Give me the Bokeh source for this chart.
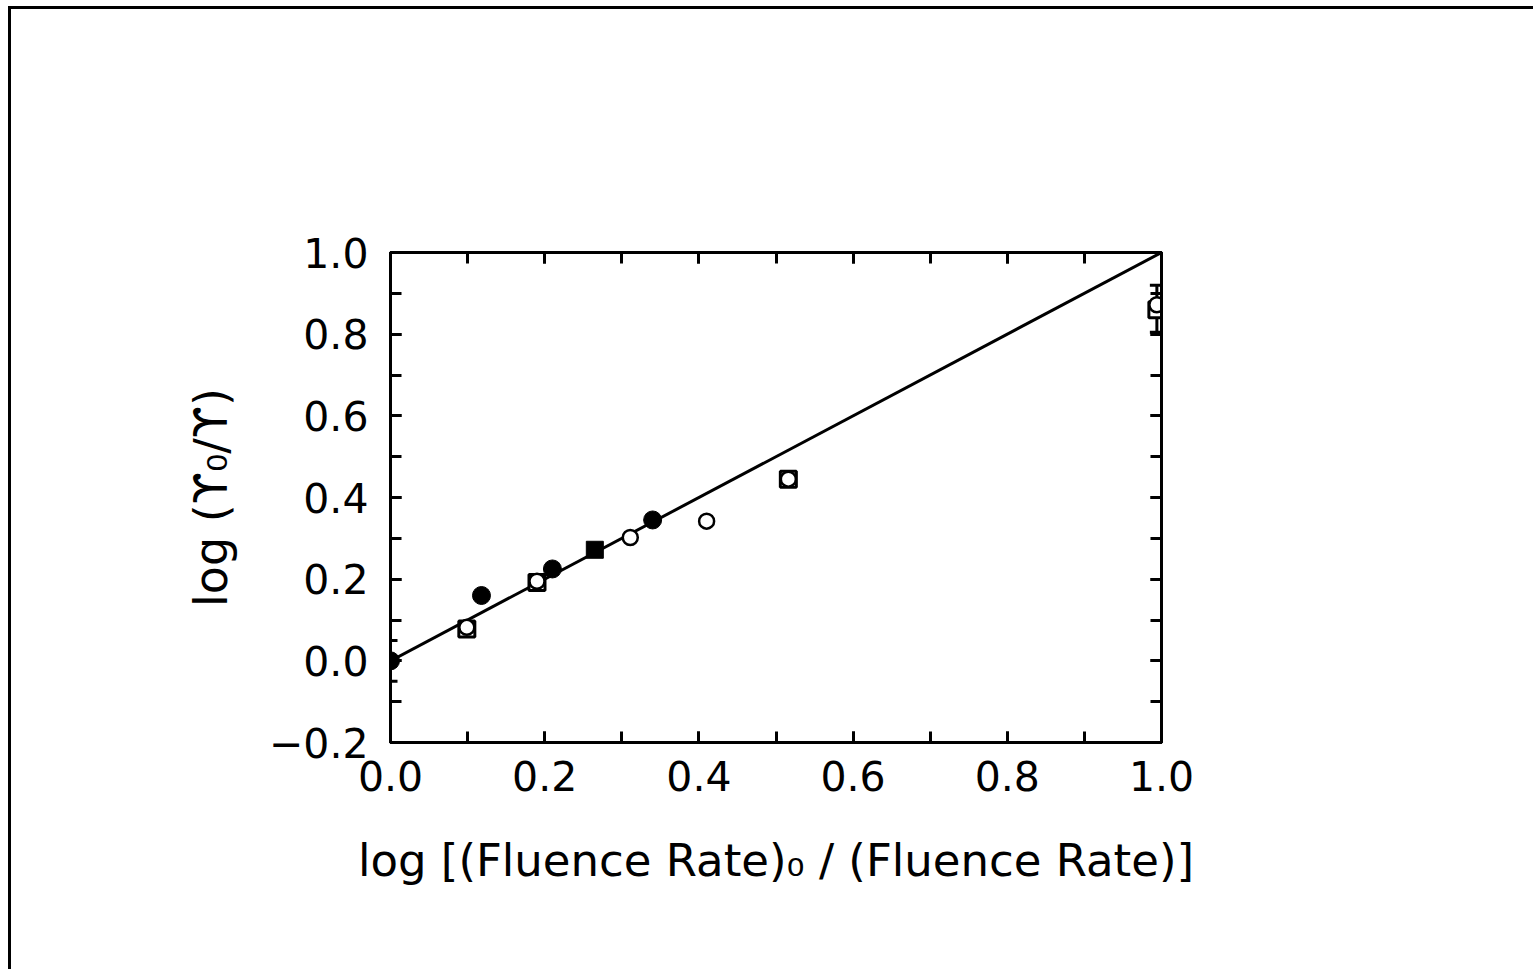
from bokeh.plotting import figure
from bokeh.models import (LinearAxis, SingleIntervalTicker, Range1d, Whisker,
                          ColumnDataSource, TeeHead, CustomJSTickFormatter)
from bokeh.embed import file_html
from bokeh.resources import INLINE

# ---- data ----
filled_circle_x = [0.0, 0.118, 0.21, 0.34]
filled_circle_y = [0.0, 0.16, 0.225, 0.345]

open_circle_x = [0.099, 0.19, 0.311, 0.41, 0.516, 0.994]
open_circle_y = [0.082, 0.195, 0.302, 0.342, 0.445, 0.872]

open_square_x = [0.099, 0.19, 0.516, 0.994]
open_square_y = [0.078, 0.192, 0.445, 0.86]

filled_square_x = [0.265]
filled_square_y = [0.272]

err_x = [0.0, 0.994]
err_low = [-0.05, 0.805]
err_high = [0.05, 0.92]

fit_x = [0.0, 1.0]
fit_y = [0.0, 1.0]

x_ticks_interval = 0.2
y_ticks_interval = 0.2

x_title = "log [(Fluence Rate)\u2080 / (Fluence Rate)]"
y_title = "log (\u03d2\u2080/\u03d2)"

FONT = "DejaVu Sans"
XMIN, XMAX, YMIN, YMAX = 0.0, 1.0, -0.2, 1.0

p = figure(width=1525, height=963, output_backend="svg", toolbar_location=None,
           x_range=Range1d(XMIN, XMAX), y_range=Range1d(YMIN, YMAX),
           min_border_left=379, min_border_right=375, min_border_top=243,
           min_border_bottom=230, x_axis_location=None, y_axis_location=None)
p.styles = {"border-left": "3px solid black", "border-top": "3px solid black",
            "margin-left": "8px", "margin-top": "6px"}
p.grid.visible = False
p.outline_line_color = "black"
p.outline_line_width = 3
p.background_fill_color = "white"
p.border_fill_color = "white"

fmt = CustomJSTickFormatter(code="""
if (Math.abs(tick) < 1e-9) { return '0.0'; }
return tick.toFixed(1).replace('-', '\\u2212');
""")


def make_axis(interval, labels=True):
    ax = LinearAxis(ticker=SingleIntervalTicker(interval=interval, num_minor_ticks=2))
    ax.formatter = fmt
    ax.axis_line_color = "black"
    ax.axis_line_width = 3
    ax.major_tick_in = 11
    ax.major_tick_out = 0
    ax.minor_tick_in = 11
    ax.minor_tick_out = 0
    ax.major_tick_line_width = 3
    ax.minor_tick_line_width = 3
    ax.major_tick_line_color = "black"
    ax.minor_tick_line_color = "black"
    ax.major_label_text_font = FONT
    ax.major_label_text_font_size = "41px"
    ax.major_label_text_color = "black" if labels else None
    ax.major_label_standoff = 20
    ax.axis_label_text_font = FONT
    ax.axis_label_text_font_style = "normal"
    ax.axis_label_text_color = "black"
    return ax


xb = make_axis(x_ticks_interval)
xb.axis_label = x_title
xb.axis_label_text_font_size = "45px"
xb.axis_label_standoff = 40
xb.major_label_standoff = 18
p.add_layout(xb, "below")

yl = make_axis(y_ticks_interval)
yl.axis_label = y_title
yl.axis_label_text_font_size = "46px"
yl.axis_label_standoff = 28
yl.major_label_standoff = 22
p.add_layout(yl, "left")

xt = make_axis(x_ticks_interval, labels=False)
xt.major_label_text_font_size = "0px"
p.add_layout(xt, "above")
yr = make_axis(y_ticks_interval, labels=False)
yr.major_label_text_font_size = "0px"
p.add_layout(yr, "right")

# fit line
p.line(fit_x, fit_y, line_color="black", line_width=3)

# error bars
esrc = ColumnDataSource(dict(x=err_x, lower=err_low, upper=err_high))
whisk = Whisker(source=esrc, base="x", lower="lower", upper="upper",
                line_color="black", line_width=3)
whisk.upper_head = TeeHead(size=14, line_width=3, line_color="black")
whisk.lower_head = TeeHead(size=14, line_width=3, line_color="black")
p.add_layout(whisk)

# markers
p.scatter(open_square_x, open_square_y, marker="square", size=16,
          fill_color="white", line_color="black", line_width=3)
p.scatter(open_circle_x, open_circle_y, marker="circle", size=15,
          fill_color="white", line_color="black", line_width=2.5)
p.scatter(filled_square_x, filled_square_y, marker="square", size=17,
          fill_color="black", line_color="black", line_width=1)
p.scatter(filled_circle_x, filled_circle_y, marker="circle", size=18,
          fill_color="black", line_color="black", line_width=1)

open("out.html", "w").write(file_html(p, INLINE))
